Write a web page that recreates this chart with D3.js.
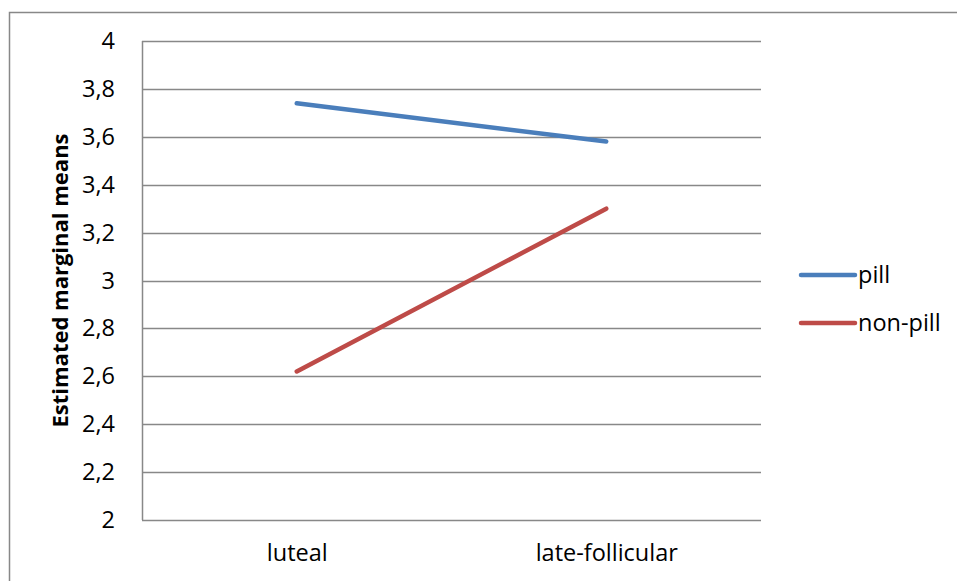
<!DOCTYPE html>
<html lang="en">
<head>
  <meta charset="utf-8" />
  <title>Estimated marginal means</title>
  <script src="https://cdn.jsdelivr.net/npm/d3@7"></script>
  <style>
    body {
      margin: 0;
      background: #fff;
      font-family: "Open Sans", sans-serif;
    }
    path.domain {
      display: none;
    }
  </style>
</head>
<body>
  <div id="graphic"></div>

  <script>
    // data
    var categories = ["luteal", "late-follicular"];
    var seriesNames = ["pill", "non-pill"];
    var pillValues = [3.74, 3.58];
    var nonPillValues = [2.62, 3.30];
    var yTicks = [2, 2.2, 2.4, 2.6, 2.8, 3, 3.2, 3.4, 3.6, 3.8, 4];
    var colours = ["#4a7ebb", "#be4b48"];

    var width = 957, height = 581;
    var margin = {top: 41, right: 196, bottom: 61, left: 142};
    var chart_width = width - margin.left - margin.right;
    var chart_height = height - margin.top - margin.bottom;
    var fontFamily = '"Open Sans", sans-serif';
    var fontSize = 23.5;

    var svg = d3.select('#graphic')
      .append('svg')
      .attr('width', width)
      .attr('height', height);

    // outer chart border
    svg.append('rect')
      .attr('x', 9.5)
      .attr('y', 12.5)
      .attr('width', width)
      .attr('height', height)
      .attr('fill', 'none')
      .attr('stroke', '#888')
      .attr('stroke-width', 1.5);

    var g = svg.append('g')
      .attr('transform', 'translate(' + margin.left + ',' + margin.top + ')');

    var x = d3.scalePoint()
      .domain(categories)
      .range([0, chart_width])
      .padding(0.5);

    var y = d3.scaleLinear()
      .domain([2, 4])
      .range([chart_height, 0]);

    // gridlines
    g.append('g')
      .selectAll('line')
      .data(yTicks)
      .enter().append('line')
      .attr('x1', 0)
      .attr('x2', chart_width)
      .attr('y1', function(d) { return Math.round(y(d)) + 0.5; })
      .attr('y2', function(d) { return Math.round(y(d)) + 0.5; })
      .attr('stroke', '#888')
      .attr('stroke-width', 1.5);

    // y axis line
    g.append('line')
      .attr('x1', 0.5).attr('x2', 0.5)
      .attr('y1', 0).attr('y2', chart_height)
      .attr('stroke', '#888')
      .attr('stroke-width', 1.5);

    var yAxis = d3.axisLeft(y)
      .tickValues(yTicks)
      .tickSize(0)
      .tickPadding(27)
      .tickFormat(function(d) { return String(d).replace('.', ','); });

    g.append('g')
      .attr('class', 'y axis')
      .call(yAxis)
      .selectAll('text')
      .attr('font-size', fontSize)
      .attr('font-family', fontFamily)
      .attr('fill', '#000');

    var xAxis = d3.axisBottom(x)
      .tickSize(0)
      .tickPadding(24);

    g.append('g')
      .attr('class', 'x axis')
      .attr('transform', 'translate(0,' + chart_height + ')')
      .call(xAxis)
      .selectAll('text')
      .attr('font-size', fontSize)
      .attr('font-family', fontFamily)
      .attr('fill', '#000');

    // y axis title
    g.append('text')
      .attr('transform', 'translate(-74,' + (chart_height / 2) + ') rotate(-90)')
      .attr('text-anchor', 'middle')
      .attr('font-size', 22)
      .attr('font-weight', 700)
      .attr('font-family', fontFamily)
      .text('Estimated marginal means');

    // lines
    var series = [pillValues, nonPillValues];
    var line = d3.line()
      .x(function(d, i) { return x(categories[i]); })
      .y(function(d) { return y(d); });

    g.selectAll('path.series')
      .data(series)
      .enter().append('path')
      .attr('class', 'series')
      .attr('d', line)
      .attr('fill', 'none')
      .attr('stroke', function(d, i) { return colours[i]; })
      .attr('stroke-width', 4.5)
      .attr('stroke-linecap', 'round');

    // legend
    var legend = svg.append('g')
      .attr('transform', 'translate(801,275)');

    var items = legend.selectAll('g')
      .data(seriesNames)
      .enter().append('g')
      .attr('transform', function(d, i) { return 'translate(0,' + (i * 48) + ')'; });

    items.append('line')
      .attr('x1', 0).attr('x2', 54)
      .attr('stroke', function(d, i) { return colours[i]; })
      .attr('stroke-width', 4.5)
      .attr('stroke-linecap', 'round');

    items.append('text')
      .attr('x', 57)
      .attr('dy', '0.35em')
      .attr('font-size', fontSize)
      .attr('font-family', fontFamily)
      .text(function(d) { return d; });
  </script>
</body>
</html>
